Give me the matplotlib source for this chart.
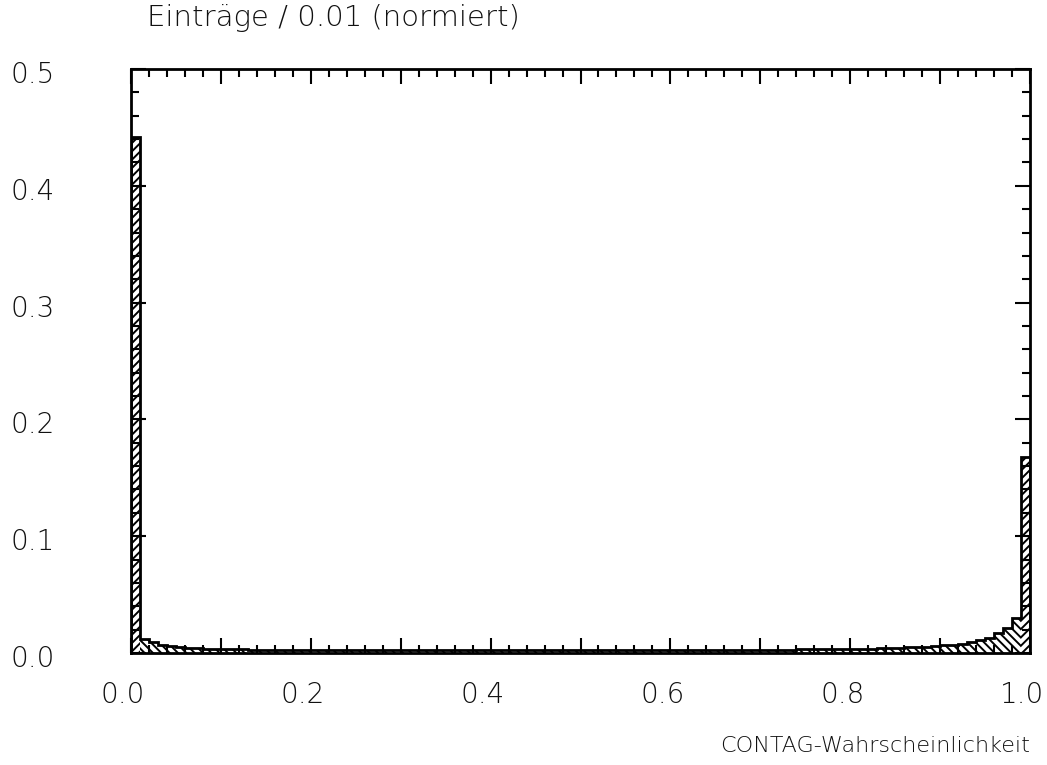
import numpy as np
import matplotlib.pyplot as plt
import matplotlib.transforms as mtransforms
from matplotlib.ticker import MultipleLocator

# Histogramm: 100 Bins der Breite 0.01, normiert
bin_edges = np.linspace(0.0, 1.0, 101)
eintraege = [
    0.442, 0.012, 0.009, 0.007, 0.006, 0.005, 0.0045, 0.004, 0.0035, 0.0035,
    0.003, 0.003, 0.003, 0.0028, 0.0028, 0.0027, 0.0026, 0.0026, 0.0025, 0.0025,
    0.0025, 0.0024, 0.0024, 0.0024, 0.0023, 0.0023, 0.0023, 0.0023, 0.0022, 0.0022,
    0.0022, 0.0022, 0.0022, 0.0022, 0.0022, 0.0022, 0.0022, 0.0022, 0.0022, 0.0022,
    0.0022, 0.0022, 0.0022, 0.0022, 0.0022, 0.0022, 0.0022, 0.0022, 0.0022, 0.0022,
    0.0022, 0.0022, 0.0022, 0.0022, 0.0022, 0.0022, 0.0023, 0.0023, 0.0023, 0.0023,
    0.0023, 0.0024, 0.0024, 0.0024, 0.0025, 0.0025, 0.0025, 0.0026, 0.0026, 0.0027,
    0.0027, 0.0028, 0.0028, 0.0029, 0.003, 0.003, 0.0031, 0.0032, 0.0033, 0.0034,
    0.0035, 0.0036, 0.0038, 0.004, 0.0042, 0.0045, 0.0048, 0.005, 0.0055, 0.006,
    0.0065, 0.007, 0.008, 0.009, 0.011, 0.013, 0.017, 0.021, 0.030, 0.168,
]

plt.rcParams['hatch.linewidth'] = 1.4
plt.rcParams['font.family'] = 'DejaVu Sans'
plt.rcParams['font.weight'] = 'light'

fig = plt.figure(figsize=(10.47, 7.65), dpi=100)
ax = fig.add_axes([0.1251, 0.1464, 0.8587, 0.7634])

# Balken mit Schraffur (hohe Bins "/", niedrige "\")
bars = ax.bar(bin_edges[:-1], eintraege, width=0.01, align='edge',
              facecolor='white', edgecolor='black', linewidth=0)
for b, v in zip(bars, eintraege):
    b.set_hatch('////' if v > 0.1 else '\\\\\\\\')
ax.stairs(eintraege, bin_edges, color='black', linewidth=2)

ax.set_xlim(0, 1)
ax.set_ylim(0, 0.5)
ax.xaxis.set_minor_locator(MultipleLocator(0.02))
ax.yaxis.set_major_locator(MultipleLocator(0.1))
ax.yaxis.set_minor_locator(MultipleLocator(0.02))
xt = np.arange(0, 1.01, 0.1)
ax.set_xticks(xt)
ax.set_xticklabels([f"{v:.1f}" if i % 2 == 0 else "" for i, v in enumerate(xt)])
ax.tick_params(which='both', direction='in', top=True, right=True, width=1.5)
ax.tick_params(which='major', length=11, labelsize=20, labelcolor='#111111')
ax.tick_params(which='minor', length=6)
ax.tick_params(axis='y', which='major', pad=55)
ax.tick_params(axis='x', which='major', pad=20)
for s in ax.spines.values():
    s.set_linewidth(2)

# Beschriftungen leicht versetzt wie im Original
dx = mtransforms.ScaledTranslation(-0.08, 0, fig.dpi_scale_trans)
for lbl in ax.get_xticklabels():
    lbl.set_transform(lbl.get_transform() + dx)
dy = mtransforms.ScaledTranslation(0, -0.03, fig.dpi_scale_trans)
for lbl in ax.get_yticklabels():
    lbl.set_transform(lbl.get_transform() + dy)

fig.text(0.140, 0.995, "Einträge / 0.01 (normiert)", fontsize=21, color='#111111',
         ha='left', va='top')
fig.text(0.984, 0.012, "CONTAG-Wahrscheinlichkeit", fontsize=16, color='#111111',
         ha='right', va='bottom')

fig.savefig("out.png", dpi=100)
